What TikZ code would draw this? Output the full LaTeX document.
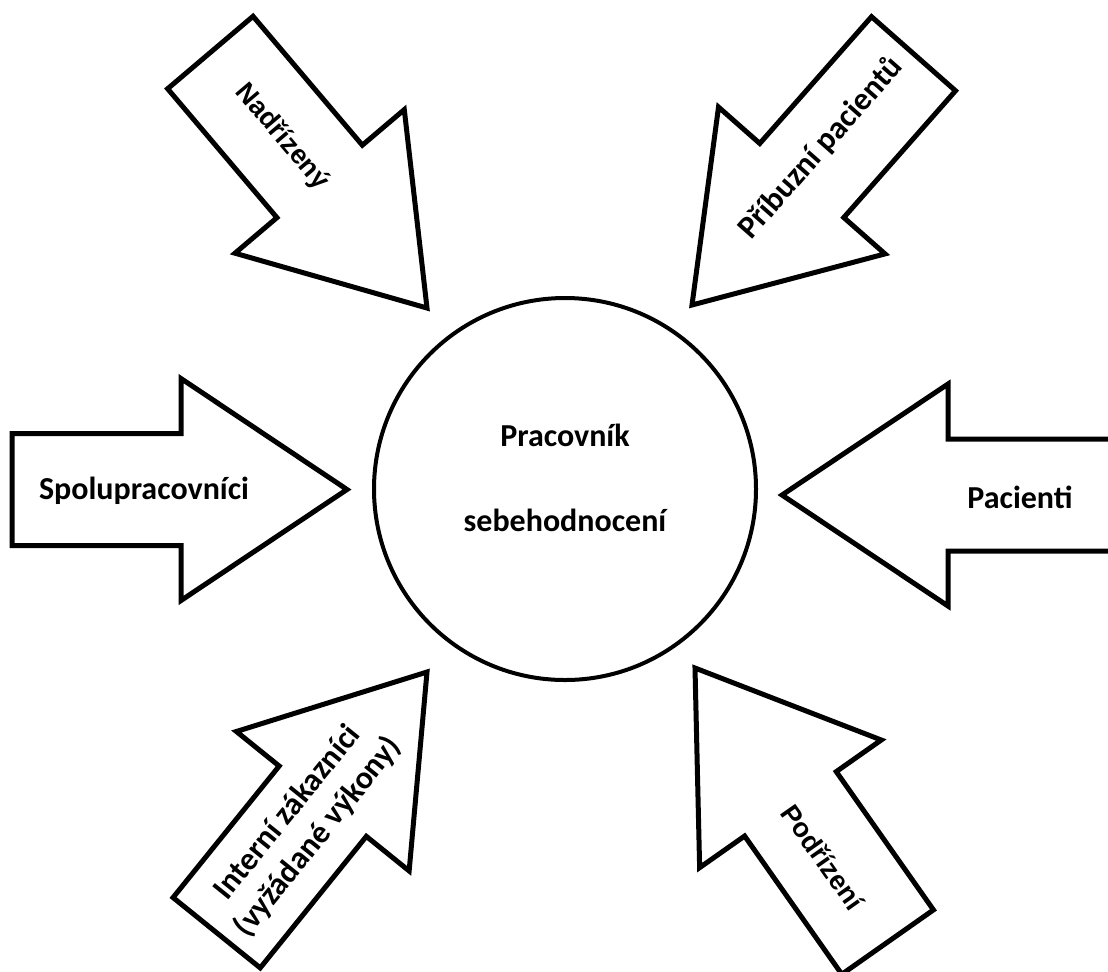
\documentclass[tikz,border=0pt]{standalone}
\usepackage{fontspec}
\setmainfont{Carlito}
\newfontfamily\arialfont{Liberation Sans}
\begin{document}
\begin{tikzpicture}[x=0.5pt, y=-0.5pt,
  inarrow/.pic={\draw[line width=2.5pt, line join=miter] (0,0) -- (-166,111) -- (-166,56) -- (-335,56)
    -- (-335,-56) -- (-166,-56) -- (-166,-111) -- cycle;},
  lbl/.style={font=\bfseries\fontsize{16}{19.5}\selectfont, align=center},
  albl/.style={font=\arialfont\bfseries\fontsize{13.5}{16}\selectfont}]
  \useasboundingbox (0,0) rectangle (1108,971);
  \node[draw, circle, line width=2pt, minimum size=191pt] (worker) at (565,489) {};
  \node[lbl] (pracovnik) at (565,435) {Pracovník};
  \node[lbl] (sebe) at (565,520) {sebehodnocení};
  \pic at (347,489.5) {inarrow};
  \pic[rotate=180] at (782,495) {inarrow};
  \pic[rotate=-49.7] at (427,308) {inarrow};
  \pic[rotate=-131.4] at (692,305) {inarrow};
  \pic[rotate=51.1] at (427,672) {inarrow};
  \pic[rotate=125.1] at (695,668) {inarrow};
  \node[lbl] (spolu) at (144,491) {Spolupracovníci};
  \node[lbl] (pacienti) at (1020,497) {Pacienti};
  \node[albl, rotate=-49.7] (nadrizeny) at (282,137) {Nadřízený};
  \node[lbl, rotate=48.6] (pribuzni) at (821,148) {Příbuzní pacientů};
  \node[albl, rotate=-54.9] (podrizeni) at (823,857) {Podřízení};
  \node[lbl, rotate=51.1] (interni) at (303,825) {Interní zákazníci\\(vyžádané výkony)};
\end{tikzpicture}
\end{document}
